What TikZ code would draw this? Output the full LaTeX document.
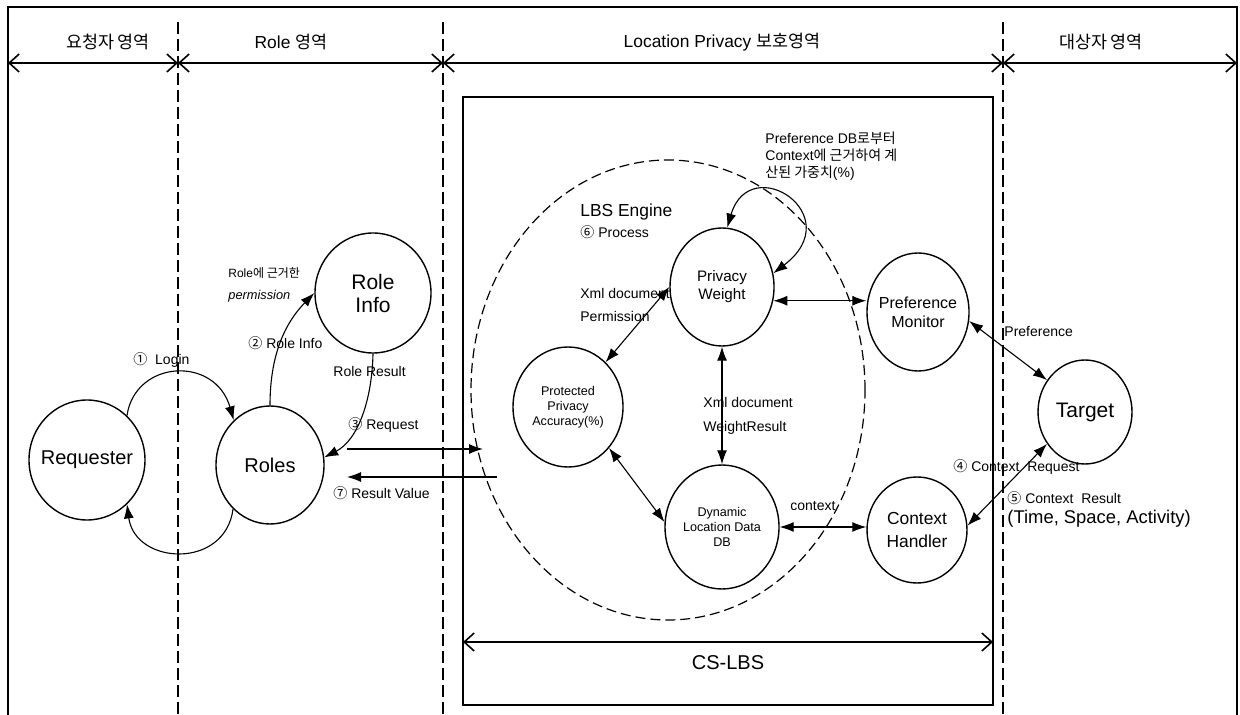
\documentclass[tikz,border=0pt]{standalone}
\usepackage{fontspec}
\setmainfont{Liberation Sans}
\newfontfamily\kr{Noto Sans CJK KR}
\usetikzlibrary{shapes.geometric,arrows.meta}

\begin{document}
\begin{tikzpicture}[x=0.5pt,y=0.5pt,
    bubble/.style={draw, ellipse, line width=0.7pt, inner xsep=-10pt, inner ysep=0pt, align=center},
    lbl/.style={anchor=west, inner sep=0pt, font=\fontsize{7}{8.5}\selectfont},
    region/.style={inner sep=0pt, font=\fontsize{8.7}{10}\selectfont},
    flow/.style={-{Latex[length=7pt,width=5pt]}, line width=0.55pt},
    both/.style={{Latex[length=7pt,width=5pt]}-{Latex[length=7pt,width=5pt]}, line width=0.55pt},
    span/.style={{Straight Barb[length=5pt,width=9pt]}-{Straight Barb[length=5pt,width=9pt]}, line width=0.8pt},
    divider/.style={dash pattern=on 6pt off 2.5pt, line width=0.6pt}]

\useasboundingbox (0,0) rectangle (1240,-715);

\draw[line width=0.8pt] (8,-715) -- (8,-7) -- (1237,-7) -- (1237,-715);
\draw[divider] (178,-22) -- (178,-715);
\draw[divider] (443,-22) -- (443,-715);
\draw[divider] (1003,-22) -- (1003,-715);

\coordinate (d0) at (8,-63);
\coordinate (d1) at (178,-63);
\coordinate (d2) at (443,-63);
\coordinate (d3) at (1003,-63);
\coordinate (d4) at (1237,-63);
\draw[span] (d0) -- (d1);
\draw[span] (d1) -- (d2);
\draw[span] (d2) -- (d3);
\draw[span] (d3) -- (d4);

\node[region] (r1) at (108,-42) {{\kr 요청자 영역}};
\node[region] (r2) at (291,-42) {Role {\kr 영역}};
\node[region] (r3) at (722,-42) {Location Privacy {\kr 보호영역}};
\node[region] (r4) at (1101,-42) {{\kr 대상자 영역}};

\draw[line width=0.6pt] (463,-97) rectangle (993,-705);
\coordinate (cs1) at (463,-642);
\coordinate (cs2) at (993,-642);
\draw[span] (cs1) -- (cs2);
\node[region, font=\fontsize{10}{12}\selectfont] (cslbs) at (728,-663) {CS-LBS};

\node [draw,
    ellipse,
    dash pattern=on 5pt off 2.5pt,
    line width=0.6pt,
    minimum width=197pt,
    minimum height=230pt] (engine) at (668,-390) {};

\node [bubble,
    minimum width=58pt,
    minimum height=60pt,
    font=\fontsize{10}{12}\selectfont] (req) at (87,-460) {Requester};

\node [bubble,
    minimum width=54pt,
    minimum height=59pt,
    font=\fontsize{10}{12}\selectfont] (roles) at (270,-465) {Roles};

\node [bubble,
    minimum width=58pt,
    minimum height=60pt,
    font=\fontsize{10.5}{11.5}\selectfont] (roleinfo) at (373,-293) {Role\\Info};

\node [bubble,
    minimum width=52pt,
    minimum height=59pt,
    font=\fontsize{7.6}{9}\selectfont] (pw) at (722,-287) {Privacy\\Weight};

\node [bubble,
    minimum width=55pt,
    minimum height=60pt,
    font=\fontsize{6.3}{7.5}\selectfont] (ppa) at (568,-407) {Protected\\Privacy\\Accuracy(\%)};

\node [bubble,
    minimum width=57pt,
    minimum height=62pt,
    font=\fontsize{6.3}{7.5}\selectfont] (dld) at (722,-527) {Dynamic\\Location Data\\DB};

\node [bubble,
    minimum width=51pt,
    minimum height=59pt,
    font=\fontsize{8}{9.5}\selectfont] (pm) at (918,-312) {Preference\\Monitor};

\node [bubble,
    minimum width=50pt,
    minimum height=53pt,
    font=\fontsize{8.7}{11.5}\selectfont] (ch) at (917,-530) {Context\\Handler};

\node [bubble,
    minimum width=47pt,
    minimum height=52pt,
    font=\fontsize{10.5}{12}\selectfont] (tgt) at (1085,-412) {Target};

\draw[flow] (req.48) .. controls (135,-360) and (215,-355) .. (roles.129);
\draw[flow] (roles.230) .. controls (225,-570) and (135,-565) .. (req.-48);
\draw[flow] (roles.north) .. controls (270,-350) and (288,-320) .. (roleinfo.west);
\draw[flow] (roleinfo.south) .. controls (372,-400) and (358,-440) .. (roles.8);

\coordinate (rq1) at (347,-449);
\coordinate (rq2) at (483,-449);
\coordinate (rv1) at (497,-477);
\coordinate (rv2) at (347,-477);
\draw[flow] (rq1) -- (rq2);
\draw[flow] (rv1) -- (rv2);

\draw[both] (pw.85) .. controls (750,-150) and (850,-215) .. (pw.15);
\draw[both] (pw.-15) -- (pw.-15 -| pm.west);
\draw[both] (pw.west) -- (ppa.50);
\draw[both] (pw.south) -- (dld.north);
\draw[both] (ppa.-45) -- (dld.175);
\draw[both] (dld.east) -- (dld.east -| ch.west);
\draw[both] (pm.-10) -- (tgt.140);
\draw[both] (tgt.220) -- (ch.5);

\node[lbl] (l1) at (133,-360) {{\kr ①}\ \ Login};
\node[lbl] (l2) at (248,-343) {{\kr ②} Role Info};
\node[lbl, font=\fontsize{6}{7}\selectfont] (l2a) at (228,-273) {Role{\kr 에 근거한}};
\node[lbl, font=\fontsize{6.4}{7}\selectfont\itshape] (l2b) at (228,-296) {permission};
\node[lbl] (l3a) at (333,-371) {Role Result};
\node[lbl] (l3) at (348,-425) {{\kr ③} Request};
\node[lbl] (l7) at (333,-493) {{\kr ⑦} Result Value};
\node[lbl, font=\fontsize{8.7}{10}\selectfont] (leng) at (580,-212) {LBS Engine};
\node[lbl] (l6) at (580,-232) {{\kr ⑥} Process};
\node[lbl] (lx1) at (580,-293) {Xml document};
\node[lbl] (lx1b) at (580,-316) {Permission};
\node[lbl] (lx2) at (703,-402) {Xml document};
\node[lbl] (lx2b) at (703,-428) {WeightResult};
\node[lbl] (lctx) at (790,-506) {context};
\node[lbl, align=left] (lpref) at (765,-156) {Preference DB{\kr 로부터}\\Context{\kr 에 근거하여 계}\\{\kr 산된 가중치}(\%)};
\node[lbl] (lpm) at (1004,-332) {Preference};
\node[lbl] (l4) at (953,-467) {{\kr ④} Context\ \ Request};
\node[lbl] (l5) at (1007,-498) {{\kr ⑤} Context\ \ Result};
\node[lbl, font=\fontsize{9.2}{11}\selectfont] (ltsa) at (1007,-519) {(Time, Space, Activity)};

\end{tikzpicture}
\end{document}
